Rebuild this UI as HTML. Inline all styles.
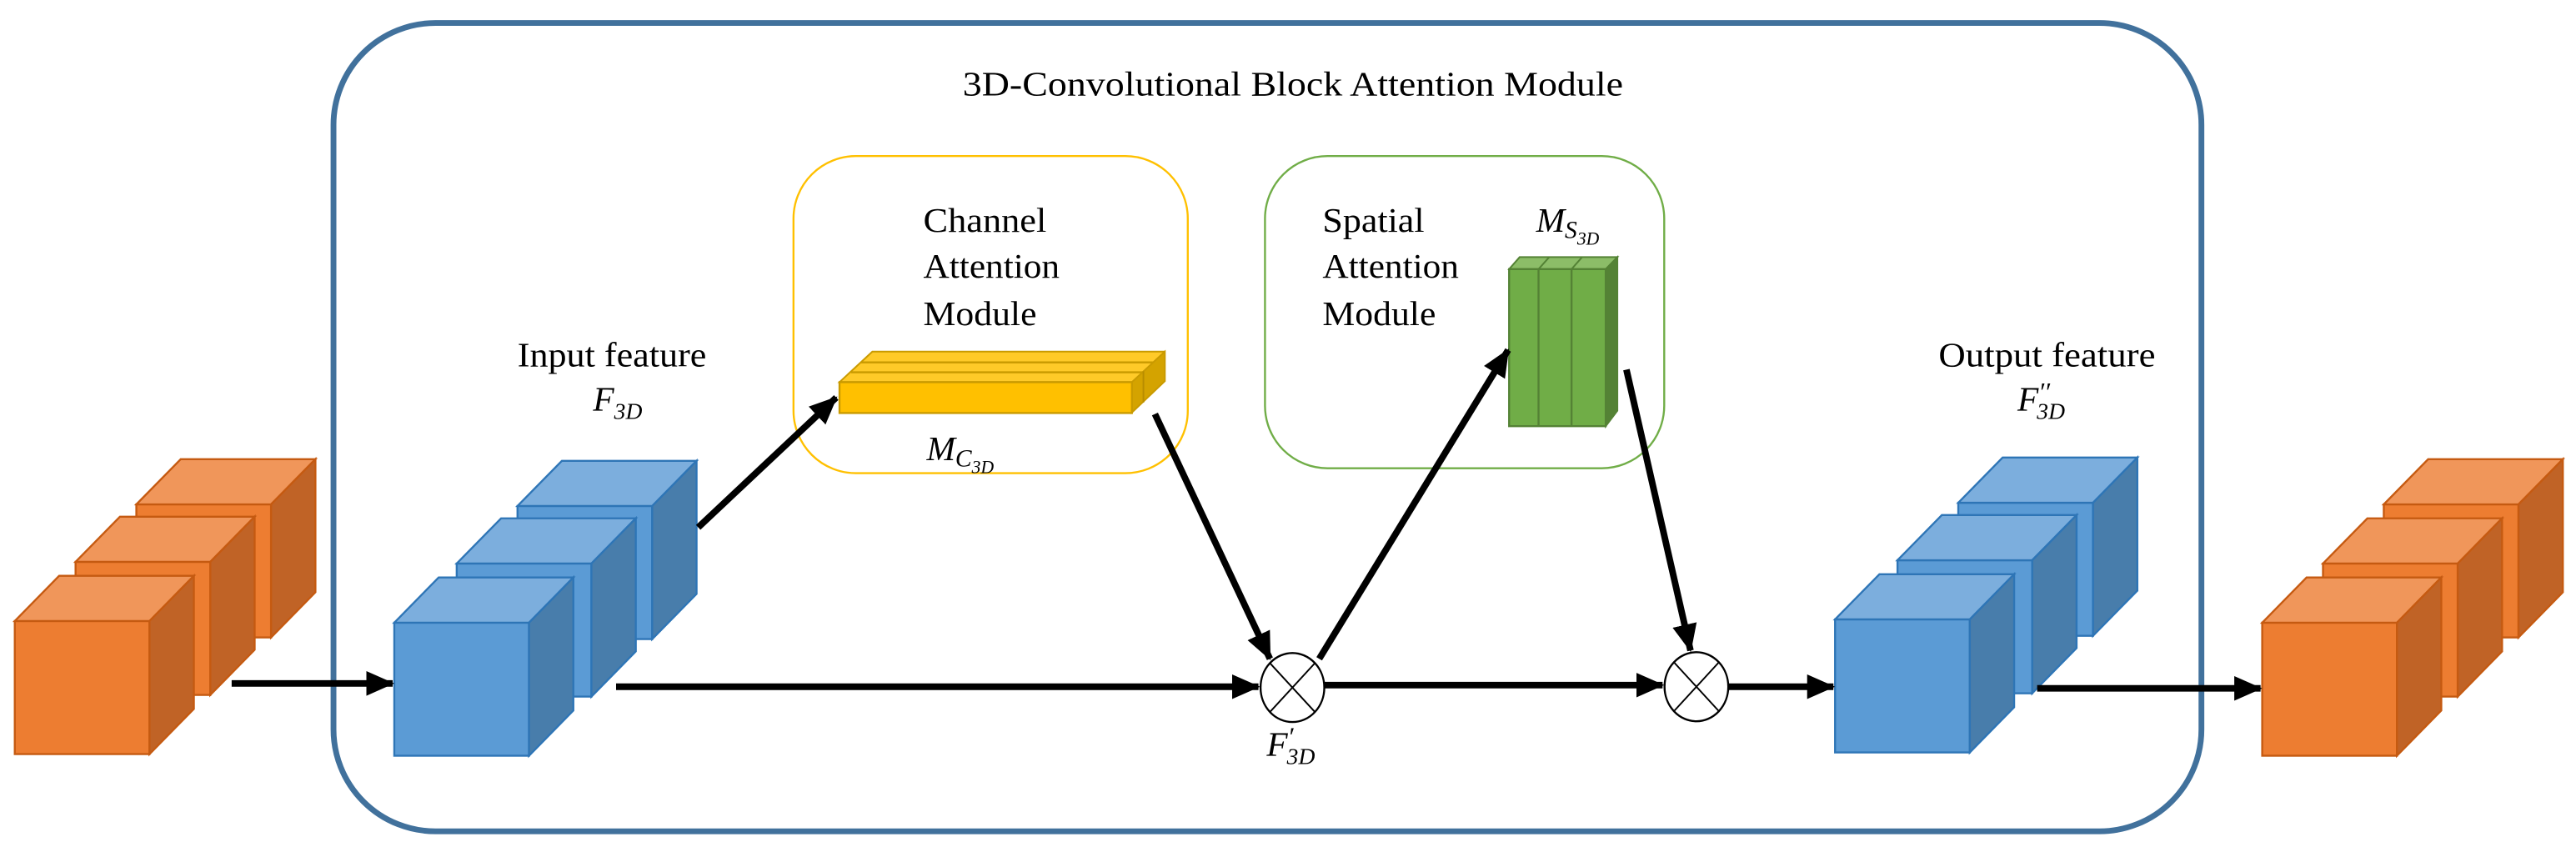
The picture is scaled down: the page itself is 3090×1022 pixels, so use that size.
<!DOCTYPE html>
<html><head><meta charset="utf-8"><style>
html,body{margin:0;padding:0;background:#fff;}
svg{display:block;}
text{font-family:"Liberation Serif",serif;fill:#000;}
</style></head><body>
<svg width="3090" height="1022" viewBox="0 0 1568 518.6" preserveAspectRatio="none" xmlns="http://www.w3.org/2000/svg">
<defs>
<marker id="ah" markerUnits="userSpaceOnUse" markerWidth="18" markerHeight="18" refX="16" refY="9" orient="auto">
<path d="M0,1.5 L17,9 L0,16.5 Z" fill="#000"/>
</marker>
<g id="oc">
<rect x="0" y="0" width="82" height="81" fill="#ed7d31" stroke="#c55a11" stroke-width="1.2"/>
<polygon points="0,0 27,-27.5 109,-27.5 82,0" fill="#f0965a" stroke="#c55a11" stroke-width="1.2"/>
<polygon points="82,0 109,-27.5 109,53.5 82,81" fill="#c06326" stroke="#c55a11" stroke-width="1.2"/>
</g>
<g id="bc">
<rect x="0" y="0" width="82" height="81" fill="#5b9bd5" stroke="#2e75b6" stroke-width="1.2"/>
<polygon points="0,0 27,-27.5 109,-27.5 82,0" fill="#7caedd" stroke="#2e75b6" stroke-width="1.2"/>
<polygon points="82,0 109,-27.5 109,53.5 82,81" fill="#487dab" stroke="#2e75b6" stroke-width="1.2"/>
</g>
</defs>

<rect x="203" y="14" width="1137" height="492" rx="62" ry="62" fill="none" stroke="#41719c" stroke-width="3.5"/>
<text x="586" y="58" font-size="21" textLength="402" lengthAdjust="spacingAndGlyphs">3D-Convolutional  Block  Attention  Module</text>

<rect x="483" y="95" width="240" height="193" rx="38" ry="38" fill="none" stroke="#ffc000" stroke-width="1.2"/>
<rect x="770" y="95" width="243" height="190" rx="38" ry="38" fill="none" stroke="#70ad47" stroke-width="1.2"/>

<text x="562" y="141" font-size="21" textLength="75" lengthAdjust="spacingAndGlyphs">Channel</text>
<text x="562" y="169" font-size="21" textLength="83" lengthAdjust="spacingAndGlyphs">Attention</text>
<text x="562" y="198" font-size="21" textLength="69" lengthAdjust="spacingAndGlyphs">Module</text>
<text x="805" y="141" font-size="21" textLength="62" lengthAdjust="spacingAndGlyphs">Spatial</text>
<text x="805" y="169" font-size="21" textLength="83" lengthAdjust="spacingAndGlyphs">Attention</text>
<text x="805" y="198" font-size="21" textLength="69" lengthAdjust="spacingAndGlyphs">Module</text>

<!-- yellow bar -->
<polygon points="531,214 709,214 709,232 689,251 689,232.6 511,232.6" fill="#ffca28" stroke="#c99a00" stroke-width="1"/>
<line x1="524" y1="220.6" x2="703" y2="220.6" stroke="#c99a00" stroke-width="1.2"/>
<line x1="518" y1="226.6" x2="697" y2="226.6" stroke="#c99a00" stroke-width="1.2"/>
<polygon points="689,232.6 709,214 709,232 689,251" fill="#d4a300" stroke="#c99a00" stroke-width="1"/>
<line x1="696" y1="226" x2="696" y2="245" stroke="#b88c00" stroke-width="1"/>
<rect x="511" y="232.6" width="178" height="18.8" fill="#ffc000" stroke="#c99a00" stroke-width="1.2"/>
<text x="564" y="280" font-size="21" font-style="italic">M<tspan font-size="15" dy="4">C</tspan><tspan font-size="11" dy="4">3D</tspan></text>

<!-- green bar -->
<polygon points="918.6,163.8 925,156.5 984.5,156.5 977.4,163.8" fill="#8cbd68" stroke="#548235" stroke-width="1"/>
<polygon points="977.4,163.8 984.5,156.5 984.5,250 977.4,259.4" fill="#548235" stroke="#548235" stroke-width="1"/>
<rect x="918.6" y="163.8" width="58.8" height="95.6" fill="#70ad47" stroke="#548235" stroke-width="1.2"/>
<line x1="936.5" y1="163.8" x2="936.5" y2="259.4" stroke="#548235" stroke-width="1.2"/>
<line x1="956.6" y1="163.8" x2="956.6" y2="259.4" stroke="#548235" stroke-width="1.2"/>
<line x1="943" y1="156.5" x2="936.5" y2="163.8" stroke="#548235" stroke-width="1"/>
<line x1="963" y1="156.5" x2="956.6" y2="163.8" stroke="#548235" stroke-width="1"/>
<text x="935" y="141" font-size="21" font-style="italic">M<tspan font-size="15" dy="4">S</tspan><tspan font-size="11" dy="4">3D</tspan></text>

<!-- cubes -->
<use href="#oc" x="83" y="307"/><use href="#oc" x="46" y="342"/><use href="#oc" x="9" y="378"/>
<use href="#bc" x="315" y="308"/><use href="#bc" x="278" y="343"/><use href="#bc" x="240" y="379"/>
<use href="#bc" x="1192" y="306"/><use href="#bc" x="1155" y="341"/><use href="#bc" x="1117" y="377"/>
<use href="#oc" x="1451" y="307"/><use href="#oc" x="1414" y="343"/><use href="#oc" x="1377" y="379"/>

<!-- labels -->
<text x="315" y="223" font-size="21" textLength="115" lengthAdjust="spacingAndGlyphs">Input feature</text>
<text x="361" y="250" font-size="21" font-style="italic">F<tspan font-size="14" dy="5">3D</tspan></text>
<text x="1180" y="223" font-size="21" textLength="132" lengthAdjust="spacingAndGlyphs">Output feature</text>
<text x="1228" y="250" font-size="21" font-style="italic">F<tspan font-size="16" dy="-6">′′</tspan><tspan font-size="14" dy="11" dx="-8">3D</tspan></text>
<text x="771" y="460" font-size="21" font-style="italic">F<tspan font-size="16" dy="-6">′</tspan><tspan font-size="14" dy="11" dx="-4">3D</tspan></text>

<!-- circles -->
<ellipse cx="786.7" cy="418.5" rx="19.4" ry="21" fill="#fff" stroke="#000" stroke-width="1.2"/>
<line x1="773" y1="403.6" x2="800.4" y2="433.4" stroke="#000" stroke-width="1"/>
<line x1="800.4" y1="403.6" x2="773" y2="433.4" stroke="#000" stroke-width="1"/>
<ellipse cx="1032.6" cy="418" rx="19.4" ry="21" fill="#fff" stroke="#000" stroke-width="1.2"/>
<line x1="1018.9" y1="403.1" x2="1046.3" y2="432.9" stroke="#000" stroke-width="1"/>
<line x1="1046.3" y1="403.1" x2="1018.9" y2="432.9" stroke="#000" stroke-width="1"/>

<!-- arrows -->
<g stroke="#000" stroke-width="4" fill="none">
<line x1="141" y1="416" x2="239" y2="416" marker-end="url(#ah)"/>
<line x1="375" y1="418" x2="766" y2="418" marker-end="url(#ah)"/>
<line x1="806" y1="417" x2="1012" y2="417" marker-end="url(#ah)"/>
<line x1="1052" y1="418" x2="1116" y2="418" marker-end="url(#ah)"/>
<line x1="1240" y1="419" x2="1376" y2="419" marker-end="url(#ah)"/>
<line x1="425" y1="321" x2="509" y2="242" marker-end="url(#ah)"/>
<line x1="703" y1="252" x2="773" y2="401" marker-end="url(#ah)"/>
<line x1="803" y1="401" x2="918" y2="213" marker-end="url(#ah)"/>
<line x1="990" y1="225" x2="1029" y2="396" marker-end="url(#ah)"/>
</g>
</svg>
</body></html>
